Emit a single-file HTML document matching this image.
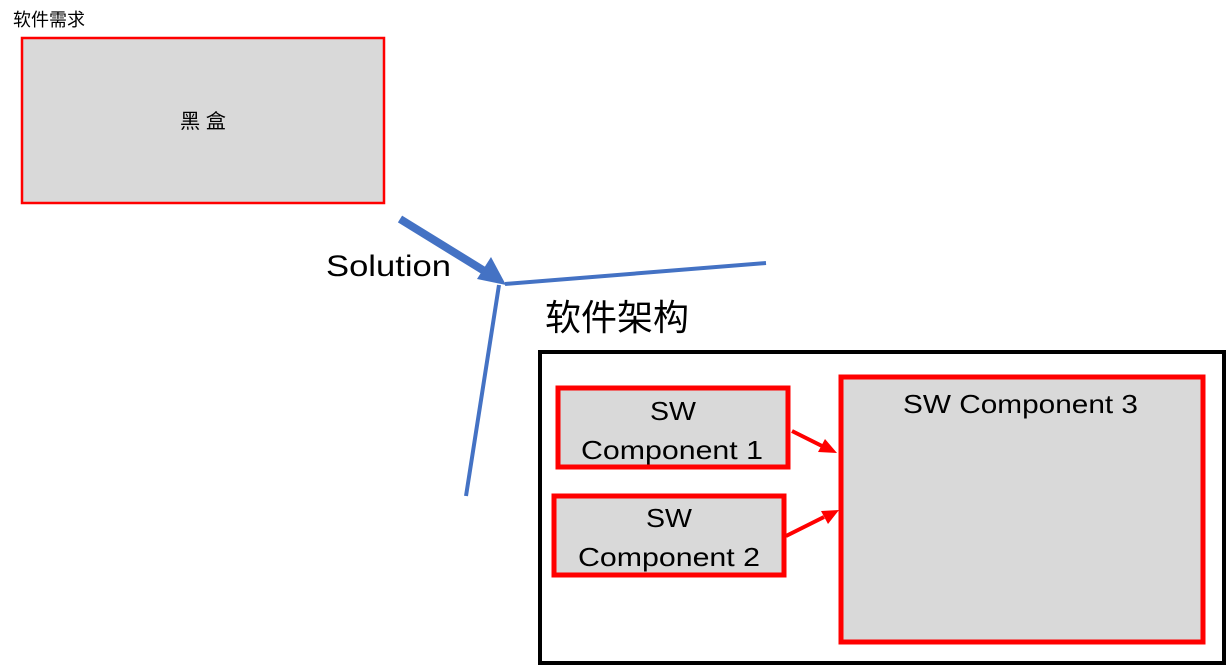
<!DOCTYPE html>
<html><head><meta charset="utf-8"><style>
html,body{margin:0;padding:0;background:#fff;}
svg{display:block;}
text{font-family:"Liberation Sans","Noto Sans CJK SC",sans-serif;fill:#000;}
</style></head><body>
<svg width="1226" height="667" viewBox="0 0 1226 667" xmlns="http://www.w3.org/2000/svg">
<text x="13" y="26" font-size="18">软件需求</text>
<rect x="22" y="38" width="362" height="165" fill="#d9d9d9" stroke="#ff0000" stroke-width="2.5"/>
<text x="180" y="128" font-size="20" textLength="46" lengthAdjust="spacingAndGlyphs">黑 盒</text>
<line x1="400" y1="219" x2="486" y2="272" stroke="#4472c4" stroke-width="8"/>
<polygon points="506,285 477,279 491,257" fill="#4472c4"/>
<text x="326" y="276" font-size="30" textLength="125" lengthAdjust="spacingAndGlyphs">Solution</text>
<line x1="505" y1="284" x2="766" y2="263" stroke="#4472c4" stroke-width="4"/>
<line x1="499" y1="285" x2="466" y2="496" stroke="#4472c4" stroke-width="4"/>
<text x="545" y="330" font-size="36">软件架构</text>
<rect x="540" y="352" width="684" height="311" fill="none" stroke="#000" stroke-width="4"/>
<rect x="558" y="388" width="230" height="79" fill="#d9d9d9" stroke="#ff0000" stroke-width="5"/>
<text x="650" y="420" font-size="26" textLength="46" lengthAdjust="spacingAndGlyphs">SW</text>
<text x="581" y="459" font-size="26" textLength="182" lengthAdjust="spacingAndGlyphs">Component 1</text>
<rect x="554" y="496" width="230" height="79" fill="#d9d9d9" stroke="#ff0000" stroke-width="5"/>
<text x="646" y="527" font-size="26" textLength="46" lengthAdjust="spacingAndGlyphs">SW</text>
<text x="578" y="566" font-size="26" textLength="182" lengthAdjust="spacingAndGlyphs">Component 2</text>
<rect x="841" y="377" width="362" height="265" fill="#d9d9d9" stroke="#ff0000" stroke-width="5"/>
<text x="903" y="413" font-size="26" textLength="235" lengthAdjust="spacingAndGlyphs">SW Component 3</text>
<line x1="792" y1="431" x2="822" y2="446" stroke="#ff0000" stroke-width="4"/>
<polygon points="837,453 818,452 825,439" fill="#ff0000"/>
<line x1="786" y1="536" x2="824" y2="517" stroke="#ff0000" stroke-width="4"/>
<polygon points="839,510 828,524 821,511" fill="#ff0000"/>
</svg>
</body></html>
